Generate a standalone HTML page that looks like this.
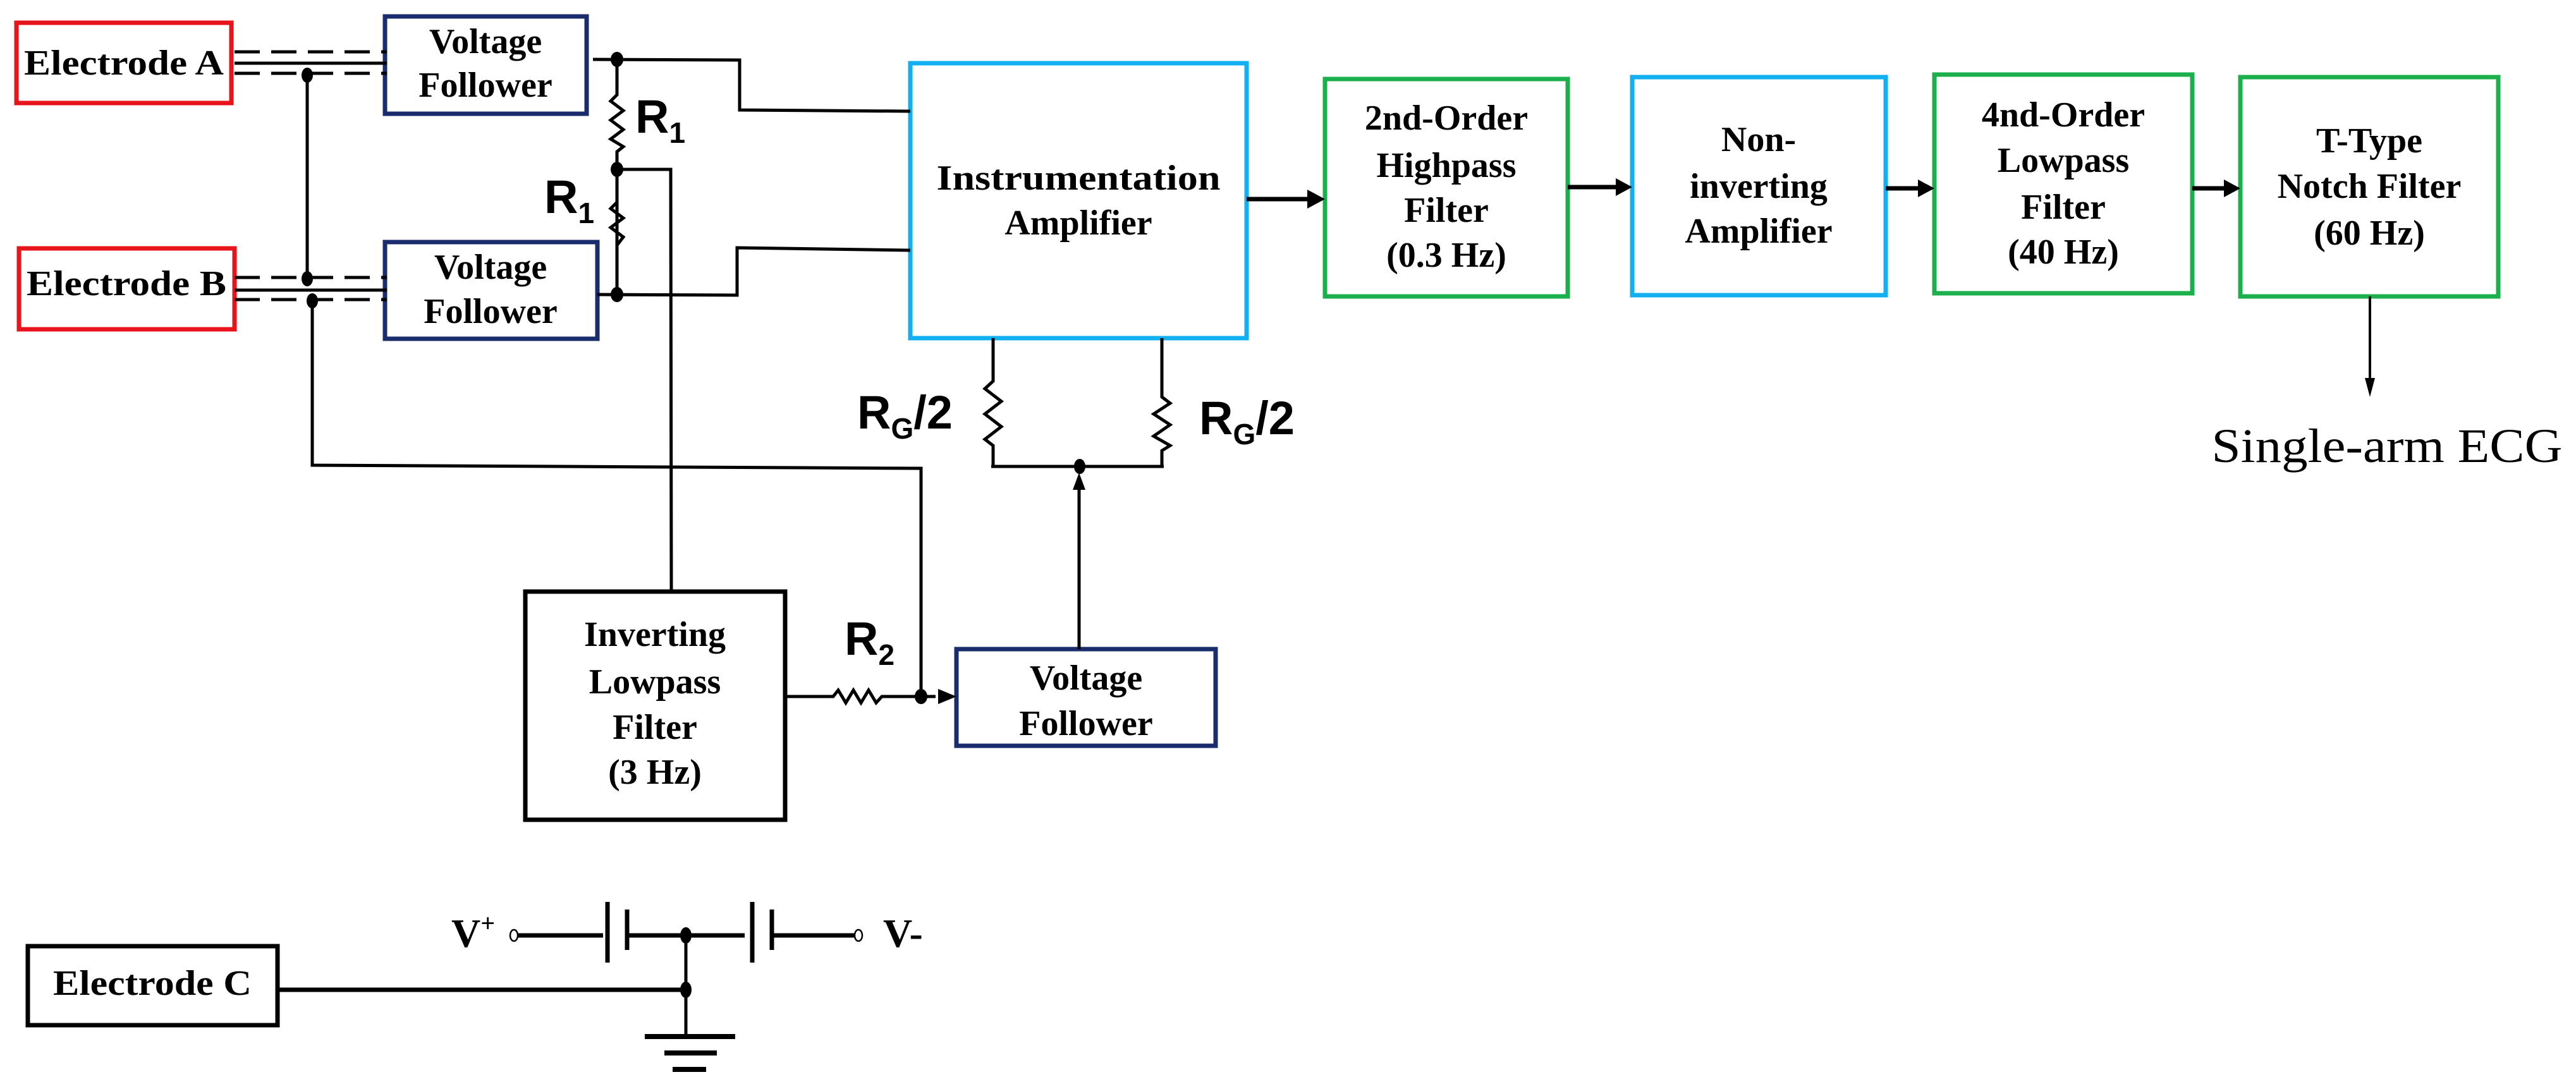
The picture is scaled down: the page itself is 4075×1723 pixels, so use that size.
<!DOCTYPE html>
<html><head><meta charset="utf-8"><style>
html,body{margin:0;padding:0;background:#fff;}
svg{display:block;}
.s{font-family:"Liberation Serif",serif;font-weight:bold;font-size:56px;text-anchor:middle;fill:#000;}
.r{font-family:"Liberation Sans",sans-serif;font-weight:bold;fill:#000;}
</style></head><body>
<svg width="4075" height="1723" viewBox="0 0 4075 1723" xmlns="http://www.w3.org/2000/svg">
<defs>
<marker id="ah" markerWidth="6" markerHeight="6" refX="5" refY="3" orient="auto" markerUnits="strokeWidth">
<path d="M0,0 L6,3 L0,6 z" fill="#000"/></marker>
</defs>
<g fill="none" stroke-width="7">
<rect x="26" y="36" width="340" height="127" stroke="#e8141c"/>
<rect x="30" y="393" width="341" height="128" stroke="#e8141c"/>
<rect x="609" y="26" width="319" height="154" stroke="#1a2c6b"/>
<rect x="609" y="383" width="336" height="153" stroke="#1a2c6b"/>
<rect x="1440" y="100" width="532" height="435" stroke="#12b0f0"/>
<rect x="2096" y="125" width="384" height="344" stroke="#1cb04c"/>
<rect x="2582" y="122" width="401" height="345" stroke="#12b0f0"/>
<rect x="3060" y="118" width="408" height="346" stroke="#1cb04c"/>
<rect x="3544" y="122" width="408" height="347" stroke="#1cb04c"/>
<rect x="831" y="936" width="411" height="361" stroke="#000"/>
<rect x="1513" y="1027" width="410" height="153" stroke="#1a2c6b"/>
<rect x="44" y="1497" width="395" height="125" stroke="#000"/>
</g>
<g fill="none" stroke="#000" stroke-width="5">
<!-- shielded cables -->
<line x1="371" y1="100" x2="612" y2="100"/>
<line x1="371" y1="459" x2="612" y2="459"/>
<g stroke-dasharray="40,18">
<line x1="371" y1="82" x2="612" y2="82"/><line x1="371" y1="116" x2="612" y2="116"/>
<line x1="371" y1="439" x2="612" y2="439"/><line x1="371" y1="474" x2="612" y2="474"/>
</g>
<polyline points="486,117 486,439"/>
<polyline points="494,474 494,736 1457,741 1457,1103"/>
<!-- VF A out -->
<polyline points="938,94 1170,95 1170,174 1440,176"/>
<polyline points="945,466 1166,467 1166,392 1440,396"/>
<!-- R1 chain -->
<polyline points="976,94 976,150 966,160 986,175 966,190 986,205 966,220 986,232 976,240 976,466"/>
<polyline points="976,320 966,330 986,345 966,360 986,375 976,388"/>
<polyline points="976,268 1061,268 1062,936"/>
<!-- RG -->
<polyline points="1571,535 1571,603 1558,615 1584,635 1558,655 1584,675 1558,695 1571,705 1571,738"/>
<polyline points="1838,535 1838,628 1851,638 1825,655 1851,672 1825,690 1851,705 1838,713 1838,738"/>
<line x1="1568" y1="738" x2="1841" y2="738"/>
<line x1="1707" y1="1027" x2="1707" y2="758"/>
<!-- LPF out -->
<polyline points="1242,1102 1318,1102 1326,1092 1338,1112 1350,1092 1362,1112 1374,1092 1386,1112 1395,1102 1480,1102"/>
<!-- chain arrows -->
<line x1="1972" y1="315" x2="2070" y2="315" stroke-width="7"/>
<line x1="2480" y1="296" x2="2558" y2="296" stroke-width="7"/>
<line x1="2983" y1="298" x2="3036" y2="298" stroke-width="7"/>
<line x1="3468" y1="298" x2="3520" y2="298" stroke-width="7"/>
<line x1="3749" y1="469" x2="3749" y2="600" stroke-width="4"/>
<!-- power -->
<line x1="813" y1="1480" x2="954" y2="1480" stroke-width="7"/>
<line x1="961" y1="1427" x2="961" y2="1523" stroke-width="7"/>
<line x1="992" y1="1439" x2="992" y2="1503" stroke-width="7"/>
<line x1="992" y1="1480" x2="1178" y2="1480" stroke-width="7"/>
<line x1="1190" y1="1427" x2="1190" y2="1523" stroke-width="7"/>
<line x1="1221" y1="1439" x2="1221" y2="1503" stroke-width="7"/>
<line x1="1221" y1="1480" x2="1354" y2="1480" stroke-width="7"/>
<line x1="439" y1="1566" x2="1085" y2="1566" stroke-width="7"/>
<line x1="1085" y1="1480" x2="1085" y2="1640"/>
<line x1="1020" y1="1640" x2="1163" y2="1640" stroke-width="8"/>
<line x1="1051" y1="1666" x2="1134" y2="1666" stroke-width="8"/>
<line x1="1064" y1="1692" x2="1117" y2="1692" stroke-width="8"/>
</g>
<g fill="#fff" stroke="#000" stroke-width="2.5">
<ellipse cx="813" cy="1480" rx="6" ry="9"/><ellipse cx="1358" cy="1480" rx="6" ry="9"/>
</g>
<g fill="#000">
<ellipse cx="486" cy="119" rx="9" ry="12"/>
<ellipse cx="486" cy="441" rx="9" ry="12"/>
<ellipse cx="494" cy="476" rx="9" ry="12"/>
<ellipse cx="976" cy="94" rx="10" ry="12"/>
<ellipse cx="976" cy="268" rx="10" ry="12"/>
<ellipse cx="976" cy="466" rx="10" ry="12"/>
<ellipse cx="1708" cy="738" rx="9" ry="12"/>
<ellipse cx="1457" cy="1102" rx="10" ry="12"/>
<ellipse cx="1085" cy="1480" rx="9" ry="13"/>
<ellipse cx="1085" cy="1566" rx="9" ry="13"/>
<path d="M1707,748 L1697,775 L1717,775 z"/>
<path d="M1513,1102 L1484,1090 L1484,1114 z"/>
<path d="M2096,315 L2068,300 L2068,330 z"/>
<path d="M2582,296 L2556,282 L2556,310 z"/>
<path d="M3060,298 L3034,284 L3034,312 z"/>
<path d="M3544,298 L3518,284 L3518,312 z"/>
<path d="M3749,628 L3741,598 L3757,598 z"/>
</g>
<!-- texts -->
<text class="s" x="196" y="118" textLength="316" lengthAdjust="spacingAndGlyphs">Electrode A</text>
<text class="s" x="200" y="467" textLength="316" lengthAdjust="spacingAndGlyphs">Electrode B</text>
<text class="s" x="241" y="1574" textLength="314" lengthAdjust="spacingAndGlyphs">Electrode C</text>
<text class="s" x="768" y="84">Voltage</text><text class="s" x="768" y="153">Follower</text>
<text class="s" x="776" y="441">Voltage</text><text class="s" x="776" y="511">Follower</text>
<text class="s" x="1706" y="300" textLength="449" lengthAdjust="spacingAndGlyphs">Instrumentation</text>
<text class="s" x="1706" y="371">Amplifier</text>
<text class="s" x="2288" y="205">2nd-Order</text><text class="s" x="2288" y="280">Highpass</text>
<text class="s" x="2288" y="351">Filter</text><text class="s" x="2288" y="422">(0.3 Hz)</text>
<text class="s" x="2782" y="239">Non-</text><text class="s" x="2782" y="313">inverting</text>
<text class="s" x="2782" y="384">Amplifier</text>
<text class="s" x="3264" y="200">4nd-Order</text><text class="s" x="3264" y="272">Lowpass</text>
<text class="s" x="3264" y="346">Filter</text><text class="s" x="3264" y="417">(40 Hz)</text>
<text class="s" x="3748" y="241">T-Type</text><text class="s" x="3748" y="313">Notch Filter</text>
<text class="s" x="3748" y="387">(60 Hz)</text>
<text class="s" x="1036" y="1022">Inverting</text><text class="s" x="1036" y="1097">Lowpass</text>
<text class="s" x="1036" y="1169">Filter</text><text class="s" x="1036" y="1240">(3 Hz)</text>
<text class="s" x="1718" y="1091">Voltage</text><text class="s" x="1718" y="1163">Follower</text>
<text x="3776" y="731" text-anchor="middle" font-family="Liberation Serif,serif" font-size="76" textLength="555" lengthAdjust="spacingAndGlyphs">Single-arm ECG</text>
<text class="r" x="1005" y="210" font-size="74">R<tspan font-size="46" dy="16">1</tspan></text>
<text class="r" x="861" y="337" font-size="74">R<tspan font-size="46" dy="16">1</tspan></text>
<text class="r" x="1336" y="1036" font-size="74">R<tspan font-size="46" dy="16">2</tspan></text>
<text class="r" x="1356" y="678" font-size="74">R<tspan font-size="46" dy="16">G</tspan><tspan dy="-16">/2</tspan></text>
<text class="r" x="1897" y="687" font-size="74">R<tspan font-size="46" dy="16">G</tspan><tspan dy="-16">/2</tspan></text>
<text x="714" y="1498" font-family="Liberation Serif,serif" font-weight="bold" font-size="64">V<tspan font-size="40" dy="-24">+</tspan></text>
<text x="1397" y="1498" font-family="Liberation Serif,serif" font-weight="bold" font-size="64">V-</text>
</svg>
</body></html>
